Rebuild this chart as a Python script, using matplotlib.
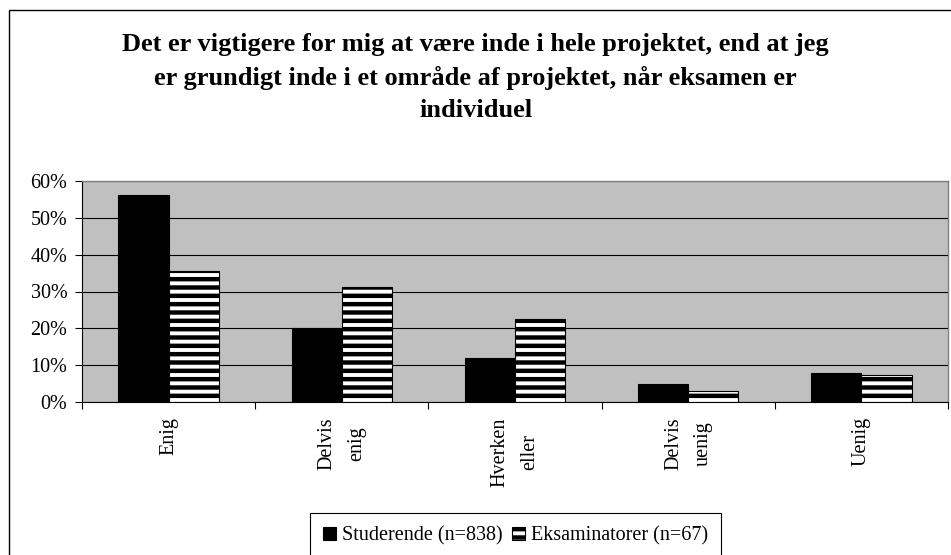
import matplotlib
matplotlib.use('Agg')
import matplotlib.pyplot as plt
from matplotlib.patches import Patch, Rectangle
from matplotlib.ticker import PercentFormatter, FixedLocator
import numpy as np

# Data (percent)
categories = ['Enig', 'Delvis\nenig', 'Hverken\neller', 'Delvis\nuenig', 'Uenig']
studerende = [56.3, 20.0, 11.9, 5.0, 8.0]
eksaminatorer = [35.7, 31.3, 22.5, 3.1, 7.3]
series_labels = ['Studerende (n=838)', 'Eksaminatorer (n=67)']

title = ('Det er vigtigere for mig at være inde i hele projektet, end at jeg\n'
         'er grundigt inde i et område af projektet, når eksamen er\n'
         'individuel')

plt.rcParams['font.family'] = ['Liberation Serif', 'DejaVu Serif']
plt.rcParams['hatch.linewidth'] = 3.2

fig = plt.figure(figsize=(9.51, 5.55), dpi=100)
ax = fig.add_axes([82 / 951, 1 - 402 / 555, 866 / 951, 221 / 555])
ax.set_facecolor('#c0c0c0')

x = np.arange(len(categories))
w = 0.29
ax.bar(x - w / 2, studerende, w, color='black', edgecolor='black', linewidth=0.8, zorder=3)
ax.bar(x + w / 2, eksaminatorer, w, color='white', edgecolor='black', hatch='--',
       linewidth=0.8, zorder=3)

ax.set_xlim(-0.5, len(categories) - 0.5)
ax.set_ylim(0, 60)
ax.set_yticks(np.arange(0, 61, 10))
ax.yaxis.set_major_formatter(PercentFormatter(100, decimals=0))
ax.tick_params(axis='y', length=5, width=0.8, pad=5.5, labelsize=14.5, direction='out')

# category boundaries as major ticks, labels on minor ticks
ax.xaxis.set_major_locator(FixedLocator(np.arange(-0.5, len(categories), 1.0)))
ax.xaxis.set_minor_locator(FixedLocator(x))
ax.set_xticklabels([], minor=False)
ax.set_xticklabels(categories, minor=True, rotation=90, linespacing=1.75)
ax.tick_params(axis='x', which='major', length=5, width=0.8, direction='out')
ax.tick_params(axis='x', which='minor', length=0, pad=11, labelsize=14.5)

ax.grid(axis='y', color='black', linewidth=0.8)
ax.set_axisbelow(True)
for s in ['left', 'bottom']:
    ax.spines[s].set_color('black')
    ax.spines[s].set_linewidth(0.8)
for s in ['top', 'right']:
    ax.spines[s].set_color('#808080')
    ax.spines[s].set_linewidth(1.0)

fig.text(0.5, 1 - 33 / 555, title, ha='center', va='top', fontsize=19,
         fontweight='bold', linespacing=1.52)

handles = [Patch(facecolor='black', edgecolor='black', linewidth=0.8),
           Patch(facecolor='white', edgecolor='black', hatch='--', linewidth=0.8)]
leg = fig.legend(handles, series_labels, loc='upper left',
                 bbox_to_anchor=(310 / 951, 1 - 513 / 555), ncol=2, fontsize=14.5,
                 frameon=True, fancybox=False, edgecolor='black', framealpha=1,
                 handlelength=0.65, handleheight=0.65, handletextpad=0.3,
                 columnspacing=0.45, borderpad=0.65, borderaxespad=0)
leg.get_frame().set_linewidth(0.8)

# outer chart frame (cropped on the right and bottom)
fig.patches.append(Rectangle((8.5 / 951, -0.1), 1.2, 1 - 10 / 555 + 0.1,
                             transform=fig.transFigure, fill=False,
                             edgecolor='black', linewidth=1.0, clip_on=False))

fig.savefig('out.png', dpi=100)
